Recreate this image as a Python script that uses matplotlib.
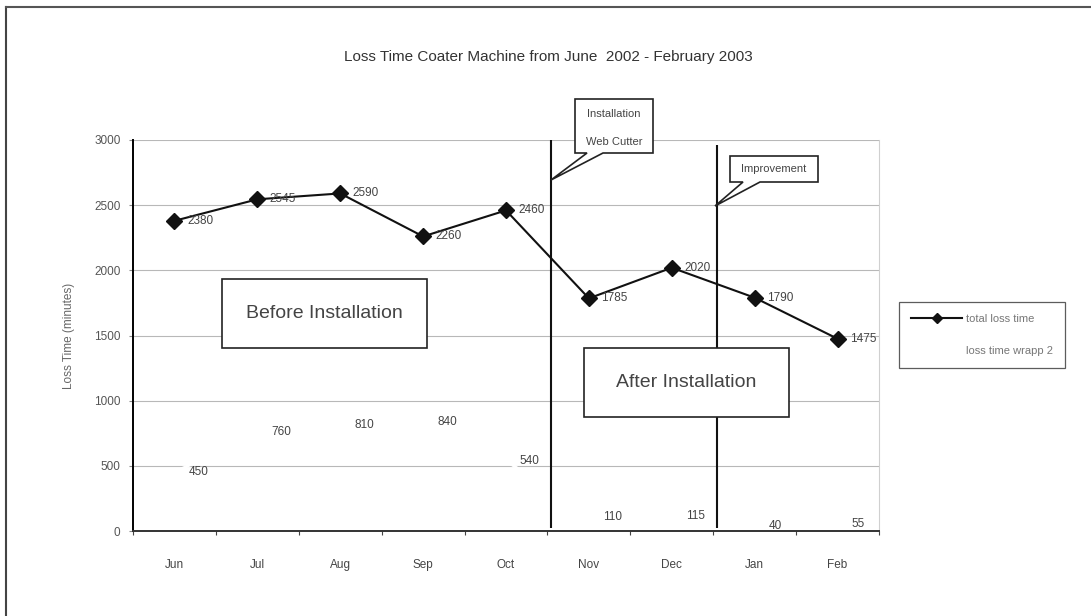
import numpy as np
import matplotlib
matplotlib.use("Agg")
import matplotlib.pyplot as plt
from matplotlib.patches import Polygon, Rectangle
from matplotlib.lines import Line2D

plt.rcParams['font.family'] = ['Liberation Sans', 'DejaVu Sans']

months = ['Jun', 'Jul', 'Aug', 'Sep', 'Oct', 'Nov', 'Dec', 'Jan', 'Feb']
total_loss = [2380, 2545, 2590, 2260, 2460, 1785, 2020, 1790, 1475]
wrapp_loss = [450, 760, 810, 840, 540, 110, 115, 40, 55]

W, H = 1091, 616
fig = plt.figure(figsize=(W / 100, H / 100), dpi=100)
fig.patch.set_facecolor('white')


def px(x, y):
    # pixel position (origin top-left) -> figure fraction
    return x / W, 1 - y / H


ax = fig.add_axes([133 / W, 1 - 531 / H, (879 - 133) / W, (531 - 140) / H])
x = np.arange(len(months))

ax.set_xlim(-0.5, len(months) - 0.5)
ax.set_ylim(0, 3000)
ax.set_yticks(np.arange(0, 3001, 500))
ax.yaxis.grid(True, color='#b8b8b8', lw=0.8)
ax.set_axisbelow(True)

# month names centred on the points, tick marks on the category boundaries
ax.set_xticks(np.arange(-0.5, len(months), 1))
ax.set_xticklabels([])
ax.set_xticks(x, minor=True)
ax.set_xticklabels(months, minor=True)
ax.tick_params(axis='x', which='major', length=3, color='#444', direction='out')
ax.tick_params(axis='x', which='minor', length=0, pad=20, labelsize=8.5, labelcolor='#444')
ax.tick_params(axis='y', length=3, color='#888', labelsize=8.5, labelcolor='#555', pad=6)

ax.spines['top'].set_visible(False)
ax.spines['right'].set_color('#d0d0d0')
ax.spines['left'].set_linewidth(1.4)
ax.spines['bottom'].set_linewidth(1.4)
ax.spines['bottom'].set_color('#333')

ax.set_ylabel('Loss Time (minutes)', fontsize=8.5, color='#666', labelpad=14)

# second series is drawn in white, only its labels show
ax.plot(x, wrapp_loss, color='white', lw=2.2, zorder=1.5, label='loss time wrapp 2')
ax.plot(x, total_loss, color='#111', lw=1.5, marker='D', markersize=8.5,
        zorder=4, label='total loss time')

for xi, v in zip(x, total_loss):
    ax.annotate(str(v), (xi, v), xytext=(9, 0), textcoords='offset points',
                ha='left', va='center', fontsize=8.5, color='#444', zorder=5)
for xi, v in zip(x, wrapp_loss):
    ax.annotate(str(v), (xi, v), xytext=(10, 0), textcoords='offset points',
                ha='left', va='center', fontsize=8.5, color='#444', zorder=5)

# installation / improvement markers
ax.vlines([4.54, 6.54], 25, [3000, 2960], color='#111', lw=1.5, zorder=3)

leg = ax.legend(handles=[
    Line2D([], [], color='#111', lw=1.5, marker='D', markersize=5),
    Line2D([], [], color='white', lw=1.5)],
    labels=['total loss time', 'loss time wrapp 2'],
    loc='center left', bbox_to_anchor=px(899, 335), bbox_transform=fig.transFigure,
    frameon=True, fancybox=False, edgecolor='#333', fontsize=8,
    handlelength=4.6, labelspacing=2.0, borderpad=1.1, handletextpad=0.3,
    borderaxespad=0)
leg.get_frame().set_linewidth(0.9)
for t in leg.get_texts():
    t.set_color('#777')


def box_label(x0, y0, x1, y1, text, size):
    a, b = px(x0, y1)
    c, d = px(x1, y0)
    fig.patches.append(Rectangle((a, b), c - a, d - b, transform=fig.transFigure,
                                 facecolor='white', edgecolor='#222', lw=1.2, zorder=6))
    cx, cy = px((x0 + x1) / 2, (y0 + y1) / 2)
    fig.text(cx, cy, text, ha='center', va='center', fontsize=size, color='#444', zorder=7)


box_label(222, 279, 427, 348, 'Before Installation', 14)
box_label(584, 348, 789, 417, 'After Installation', 14)


def callout(verts, lines):
    pts = [px(vx, vy) for vx, vy in verts]
    fig.patches.append(Polygon(pts, closed=True, transform=fig.transFigure,
                               facecolor='white', edgecolor='#222', lw=1.2, zorder=6))
    for (tx, ty), t in lines:
        fx, fy = px(tx, ty)
        fig.text(fx, fy, t, ha='center', va='center', fontsize=8, color='#444', zorder=7)


callout([(575, 99), (653, 99), (653, 153), (603, 153), (551, 180), (587, 153), (575, 153)],
        [((614, 114), 'Installation'), ((614, 142), 'Web Cutter')])
callout([(730, 156), (818, 156), (818, 182), (760, 182), (715, 206), (743, 182), (730, 182)],
        [((774, 169), 'Improvement')])

fig.text(*px(548, 57), 'Loss Time Coater Machine from June  2002 - February 2003',
         ha='center', va='center', fontsize=11, color='#333')

# outer frame
fig.add_artist(Line2D([6 / W, 6 / W], [0, 1 - 7 / H], transform=fig.transFigure,
                      color='#444', lw=1.5))
fig.add_artist(Line2D([6 / W, 1], [1 - 7 / H, 1 - 7 / H], transform=fig.transFigure,
                      color='#555', lw=1.5))

fig.savefig('out.png', dpi=100)
